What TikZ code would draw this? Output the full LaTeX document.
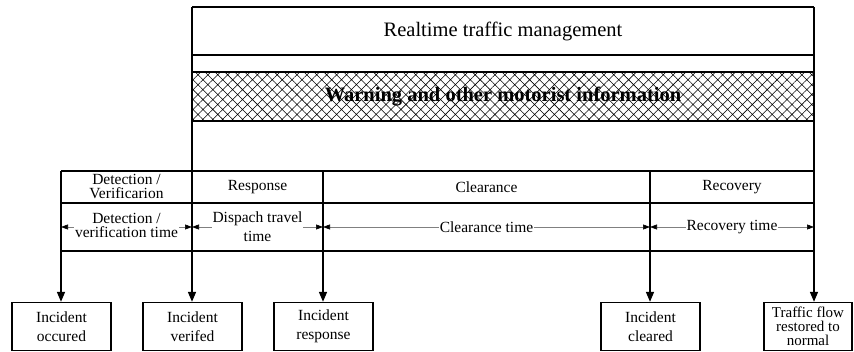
\documentclass[tikz,border=0pt]{standalone}
\usepackage{fontspec}
\setmainfont{Liberation Serif}
\usetikzlibrary{arrows.meta,patterns.meta}
\begin{document}
\begin{tikzpicture}[x=1pt,y=-1pt,
  frame/.style={line width=1.3pt},
  lbl/.style={font=\fontsize{15.5}{14}\selectfont, align=center, inner sep=0pt},
  tlbl/.style={lbl, fill=white, inner xsep=1pt},
  box/.style={draw, line width=1.3pt, minimum width=99pt, minimum height=48pt, align=center,
              font=\fontsize{15.5}{19}\selectfont, inner sep=1pt},
  flow/.style={line width=1.5pt, -{Triangle[length=10pt,width=8pt]}},
  span/.style={draw=gray, line width=0.6pt,
               {Triangle[length=7pt,width=5pt,color=black]}-{Triangle[length=7pt,width=5pt,color=black]}},
]
\useasboundingbox (0,0) rectangle (854,352);

% hatched band
\fill[pattern={Hatch[angle=45,distance=7pt,line width=0.55pt]}] (192,72) rectangle (814,121);

% horizontal rules
\draw[frame] (192,7) -- (814,7);
\draw[frame] (192,55) -- (814,55);
\draw[frame] (192,72) -- (814,72);
\draw[frame] (192,121) -- (814,121);
\draw[frame] (61,171) -- (814,171);
\draw[frame] (61,203) -- (814,203);
\draw[frame] (61,251) -- (814,251);

% top texts
\node[font=\fontsize{20.5}{24}\selectfont] (title) at (503,31) {Realtime traffic management};
\node[font=\fontsize{20.5}{24}\selectfont\bfseries, inner sep=0pt] (warn) at (503,97) {Warning and other motorist information};

% column coordinates
\coordinate (c1) at (61,171);
\coordinate (c2) at (192,7);
\coordinate (c3) at (323,171);
\coordinate (c4) at (650,171);
\coordinate (c5) at (814,7);

% header labels
\node[lbl] (h1) at (126.5,186) {Detection /\\Verificarion};
\node[lbl] (h2) at (257.5,187) {Response};
\node[lbl] (h3) at (486.5,187) {Clearance};
\node[lbl] (h4) at (732,187) {Recovery};

% time spans
\coordinate (t1) at (61,227);
\coordinate (t2) at (192,227);
\coordinate (t3) at (323,227);
\coordinate (t4) at (650,227);
\coordinate (t5) at (814,227);
\draw[span] (t1) -- (t2);
\draw[span] (t2) -- (t3);
\draw[span] (t3) -- (t4);
\draw[span] (t4) -- (t5);
\node[tlbl] (s1) at (126.5,225) {Detection /\\verification time};
\node[tlbl, font=\fontsize{15.5}{19}\selectfont] (s2) at (257.5,226.5) {Dispach travel\\time};
\node[tlbl] (s3) at (486.5,227) {Clearance time};
\node[tlbl] (s4) at (732,227) {Recovery time};

% bottom boxes
\node[box] (b1) at (61.5,326.5) {Incident\\occured};
\node[box] (b2) at (192.5,326.5) {Incident\\verifed};
\node[box] (b3) at (323.5,326.5) {Incident\\response};
\node[box] (b4) at (650.5,326.5) {Incident\\cleared};
\node[box, minimum width=88pt, font=\fontsize{15}{14}\selectfont] (b5) at (808,326.5) {Traffic flow\\restored to\\normal};

% flow arrows (column lines)
\draw[flow] (c1) -- (c1 |- b1.north);
\draw[flow] (c2) -- (c2 |- b2.north);
\draw[flow] (c3) -- (c3 |- b3.north);
\draw[flow] (c4) -- (c4 |- b4.north);
\draw[flow] (c5) -- (c5 |- b5.north);
\end{tikzpicture}
\end{document}
